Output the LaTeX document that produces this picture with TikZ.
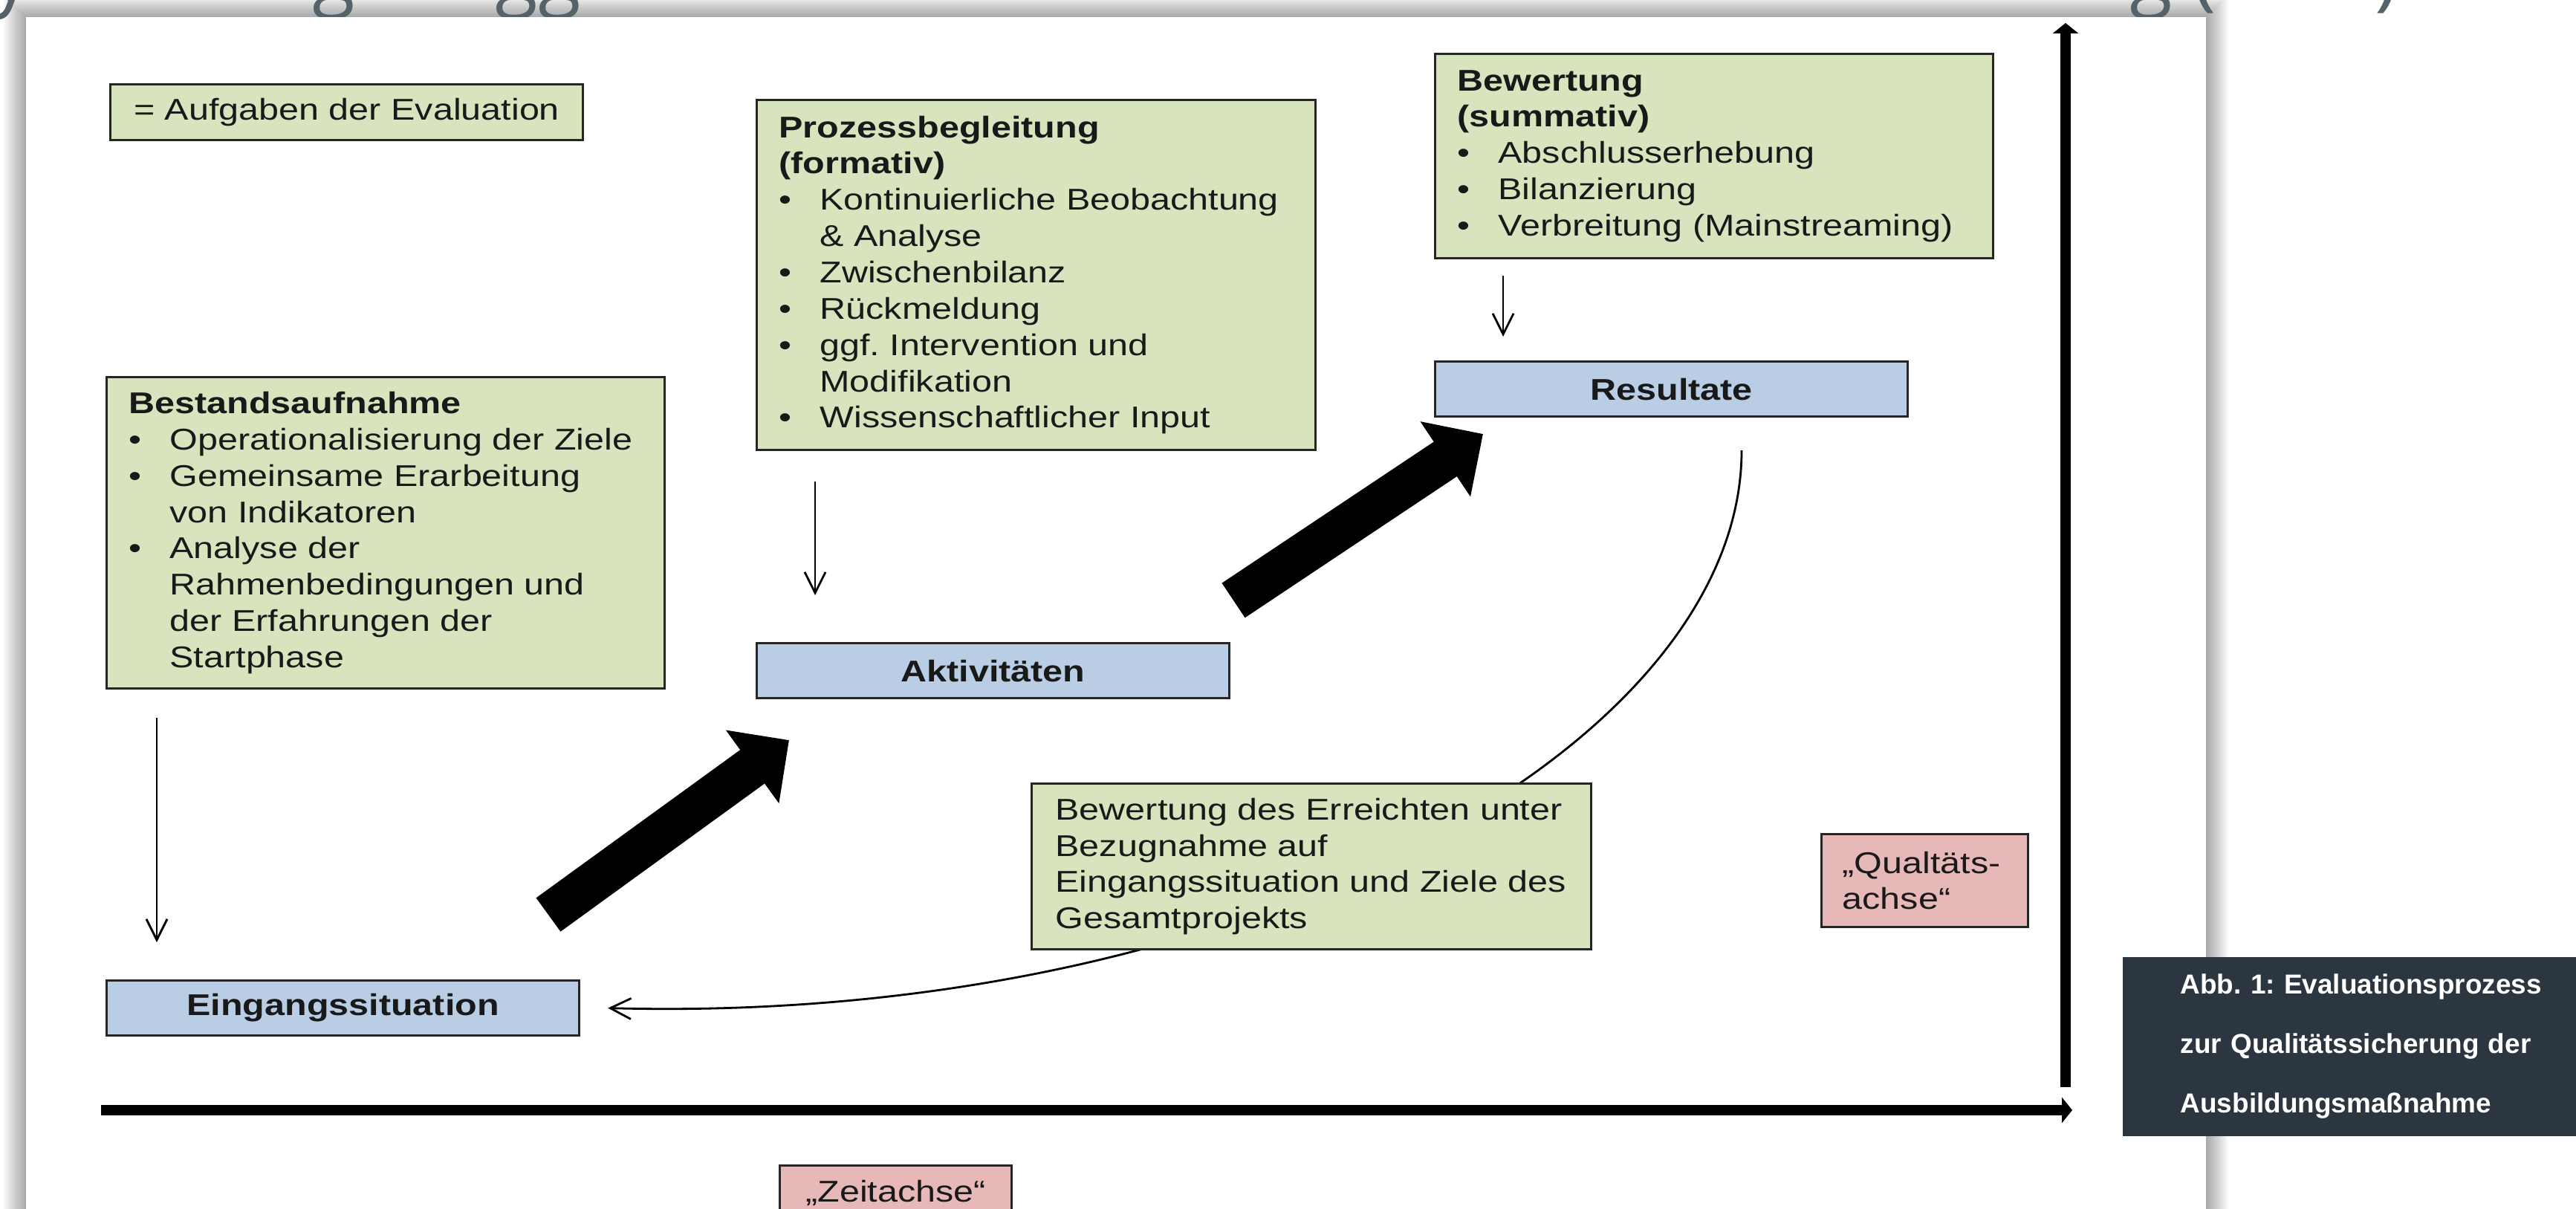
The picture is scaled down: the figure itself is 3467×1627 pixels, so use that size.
\documentclass[tikz,border=0pt]{standalone}
\usepackage{fontspec}
\setmainfont{Liberation Sans}
\newfontfamily\diafont[FakeStretch=1.2]{Liberation Sans}
\newfontfamily\titelfont{Open Sans}
\usetikzlibrary{arrows.meta}
\setlength\parindent{0pt}
\frenchspacing

\definecolor{aufgabegruen}{HTML}{D7E4BD}
\definecolor{stufenblau}{HTML}{B9CDE5}
\definecolor{achsenrosa}{HTML}{E6B9B8}
\definecolor{randgrau}{HTML}{262626}
\definecolor{captionblau}{HTML}{2B3640}
\definecolor{titelgrau}{HTML}{55626A}

\newcommand\diaschrift{\diafont\fontsize{11.5pt}{13.9pt}\selectfont}
\newcommand\punkt[1]{\par\hangindent=5.5mm\hangafter=1\noindent\makebox[5.5mm][l]{\textbullet}#1}

\begin{document}
\begin{tikzpicture}[x=0.1mm,y=-0.1mm,
  kasten/.style={draw=randgrau,line width=0.9pt,text=black!90,font=\diaschrift},
  aufgabe/.style={kasten,fill=aufgabegruen,anchor=north west,inner xsep=3mm,align=left},
  stufe/.style={kasten,fill=stufenblau,anchor=north west,minimum width=63.6mm,minimum height=7.4mm,font=\diaschrift\bfseries},
  achsentext/.style={kasten,fill=achsenrosa,anchor=north west},
  duenn/.style={line width=0.8pt,-{Straight Barb[length=2.8mm,width=2.8mm]}},
  dickpfeil/.style={line width=5.6mm,-{Triangle[length=6.1mm,width=11.8mm]}},
  achse/.style={line width=1.4mm,-{Triangle[length=1.4mm,width=3.4mm]}},
  titel/.style={anchor=base west,inner sep=0pt,text=titelgrau,font=\titelfont\fontsize{30pt}{36pt}\selectfont}]

  \useasboundingbox (0,0) rectangle (3467,1627);
  \clip (0,0) rectangle (3467,1627);
  \fill[white] (0,0) rectangle (3467,1627);

  % Schatten und Blatt
  \foreach \s in {2,4,...,30}
    \fill[black,opacity=0.025] (35-\s,23-\s) rectangle (2969+\s,1700);
  \node[titel] (frag1) at (-12,2) {y};
  \node[titel] (frag2) at (420,2) {g};
  \node[titel] (frag3) at (666,2) {gg};
  \node[titel] (frag4) at (2866,2) {g (};
  \node[titel] (frag5) at (3196,2) {)};
  \fill[white] (35,23) rectangle (2969,1700);

  % Achsen
  \coordinate (zeit0) at (136,1494);
  \coordinate (zeit1) at (2789,1494);
  \coordinate (qual0) at (2780,1463);
  \coordinate (qual1) at (2780,31);
  \draw[achse] (zeit0) -- (zeit1);
  \draw[achse] (qual0) -- (qual1);

  \node[aufgabe,anchor=north west,minimum width=63.6mm,minimum height=7.5mm,align=center] (legende) at (147,112)
    {= Aufgaben der Evaluation};

  \node[aufgabe,text width=69.1mm,minimum height=41.9mm] (bestand) at (142,506)
    {\textbf{Bestandsaufnahme}
     \punkt{Operationalisierung der Ziele}
     \punkt{Gemeinsame Erarbeitung\newline von Indikatoren}
     \punkt{Analyse der\newline Rahmenbedingungen und\newline der Erfahrungen der\newline Startphase}\par};

  \node[aufgabe,text width=69.2mm,minimum height=47.1mm] (prozess) at (1017,133)
    {\textbf{Prozessbegleitung}\newline\textbf{(formativ)}
     \punkt{Kontinuierliche Beobachtung\newline\&~Analyse}
     \punkt{Zwischenbilanz}
     \punkt{Rückmeldung}
     \punkt{ggf. Intervention und\newline Modifikation}
     \punkt{Wissenschaftlicher Input}\par};

  \node[aufgabe,text width=69.1mm,minimum height=27.5mm] (bewertung) at (1930,71)
    {\textbf{Bewertung}\newline\textbf{(summativ)}
     \punkt{Abschlusserhebung}
     \punkt{Bilanzierung}
     \punkt{Verbreitung (Mainstreaming)}\par};

  \node[stufe] (eingang) at (142,1318) {Eingangssituation};
  \node[stufe] (aktiv) at (1017,864) {Aktivitäten};
  \node[stufe] (resultate) at (1930,485) {Resultate};

  \draw[duenn] ([xshift=6.9mm,yshift=-3.8mm]bestand.south west) -- ([xshift=6.9mm,yshift=5mm]eingang.north west);
  \draw[duenn] ([xshift=8mm,yshift=-4.1mm]prozess.south west) -- ([xshift=8mm,yshift=6.3mm]aktiv.north west);
  \draw[duenn] ([xshift=9.3mm,yshift=-2.2mm]bewertung.south west) -- ([xshift=9.3mm,yshift=3.2mm]resultate.north west);

  \coordinate (schaft1) at (738,1231);
  \coordinate (spitze1) at (1062,996);
  \coordinate (schaft2) at (1660,808);
  \coordinate (spitze2) at (1996,584);
  \draw[dickpfeil] (schaft1) -- (spitze1);
  \draw[dickpfeil] (schaft2) -- (spitze2);

  \draw[duenn] ([xshift=41.4mm,yshift=-4.4mm]resultate.south west)
    .. controls (2344,1000) and (1680,1380) .. ([xshift=3.7mm]eingang.east);

  \node[aufgabe,inner xsep=3.2mm,text width=68.9mm,minimum height=22.3mm] (erreicht) at (1387,1053)
    {Bewertung des Erreichten unter\newline Bezugnahme auf\newline Eingangssituation und Ziele des\newline Gesamtprojekts};

  \node[achsentext,inner xsep=2.8mm,text width=22.2mm,minimum height=12.5mm,align=left] (qualitaet) at (2450,1121)
    {„Qualtäts-\newline achse“};
  \node[achsentext,minimum width=31.2mm,minimum height=7.3mm] (zeit) at (1048,1567) {„Zeitachse“};

  \node[anchor=north west,fill=captionblau,text=white,inner xsep=7.8mm,text width=50mm,minimum height=24.1mm,
    align=left,font=\bfseries\fontsize{10.5pt}{22.8pt}\selectfont] (caption) at (2856,1287)
    {Abb. 1: Evaluationsprozess\newline zur Qualitätssicherung der\newline Ausbildungsmaßnahme};
\end{tikzpicture}
\end{document}
